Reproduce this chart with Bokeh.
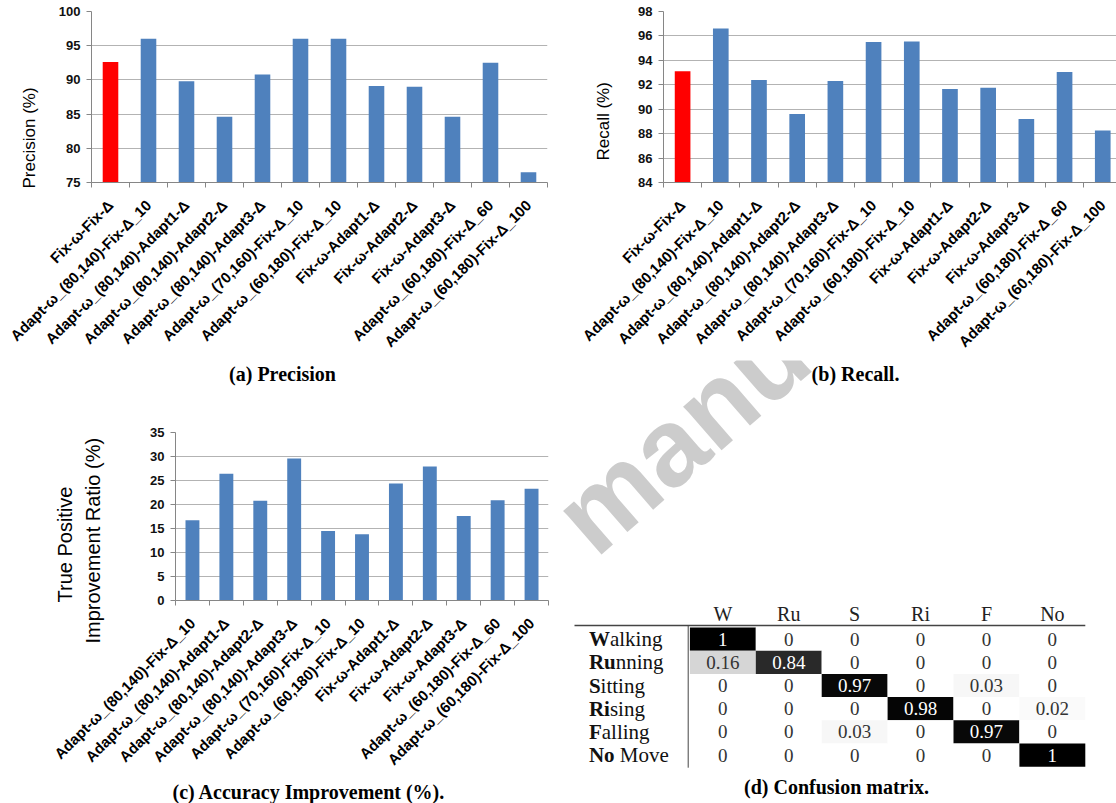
import math
from bokeh.plotting import figure
from bokeh.models import Range1d, FixedTicker, Title, ColumnDataSource
from bokeh.layouts import row, column
from bokeh.embed import file_html
from bokeh.resources import INLINE
from bokeh.core.properties import value

# ---------------- data ----------------
METHODS = ["Fix-ω-Fix-Δ", "Adapt-ω_(80,140)-Fix-Δ_10", "Adapt-ω_(80,140)-Adapt1-Δ",
           "Adapt-ω_(80,140)-Adapt2-Δ", "Adapt-ω_(80,140)-Adapt3-Δ", "Adapt-ω_(70,160)-Fix-Δ_10",
           "Adapt-ω_(60,180)-Fix-Δ_10", "Fix-ω-Adapt1-Δ", "Fix-ω-Adapt2-Δ", "Fix-ω-Adapt3-Δ",
           "Adapt-ω_(60,180)-Fix-Δ_60", "Adapt-ω_(60,180)-Fix-Δ_100"]
BASELINE = "Fix-ω-Fix-Δ"
PRECISION = [92.6, 96.0, 89.8, 84.6, 90.8, 96.0, 96.0, 89.1, 89.0, 84.6, 92.5, 76.5]
RECALL = [93.1, 96.6, 92.4, 89.6, 92.3, 95.5, 95.55, 91.65, 91.75, 89.2, 93.05, 88.25]
IMPROVEMENT_METHODS = METHODS[1:]
IMPROVEMENT = [16.7, 26.4, 20.8, 29.6, 14.5, 13.8, 24.4, 27.9, 17.6, 20.9, 23.3]
PRECISION_TICKS = [75, 80, 85, 90, 95, 100]
RECALL_TICKS = [84, 86, 88, 90, 92, 94, 96, 98]
IMPROVEMENT_TICKS = [0, 5, 10, 15, 20, 25, 30, 35]

CM_COLS = ["W", "Ru", "S", "Ri", "F", "No"]
CM_ROWS = ["Walking", "Running", "Sitting", "Rising", "Falling", "No Move"]
CM = [[1, 0, 0, 0, 0, 0],
      [0.16, 0.84, 0, 0, 0, 0],
      [0, 0, 0.97, 0, 0.03, 0],
      [0, 0, 0, 0.98, 0, 0.02],
      [0, 0, 0.03, 0, 0.97, 0],
      [0, 0, 0, 0, 0, 1]]

# ---------------- style ----------------
SANS = "Liberation Sans"
SERIF = "Liberation Serif"
BLUE = "#4f81bd"
RED = "#ff0000"
GRID = "#b3b3b3"
AXIS = "#868686"
# advance widths (em) of Liberation Serif Bold, to place the regular part after the bold prefix
BOLD_W = {"W": 1.0, "R": 0.722, "u": 0.556, "S": 0.556, "i": 0.278, "F": 0.611, "N": 0.722, "o": 0.5, " ": 0.25}

ROW1_H = 360          # height of the top row (panels a, b)
PAGE_H = 803


def blank_fig(width, height, x0, y0, left=0, right=0):
    """A figure drawn in page-pixel units (y negated so it grows downward)."""
    p = figure(width=width, height=height,
               x_range=Range1d(x0 + left, x0 + width - right), y_range=Range1d(-(y0 + height), -y0),
               output_backend="svg", toolbar_location=None,
               min_border_left=left, min_border_right=right, min_border_top=0, min_border_bottom=0)
    p.axis.visible = False
    p.grid.visible = False
    p.outline_line_color = None
    p.background_fill_color = "white"
    p.border_fill_color = "white"
    return p


def bar_panel(width, height, left, right, top, bottom, xr, yr, labels, values, ticks):
    n = len(labels)
    xs = list(range(n))
    p = figure(width=width, height=height, x_range=Range1d(*xr), y_range=Range1d(*yr),
               output_backend="svg", toolbar_location=None,
               min_border_left=left, min_border_right=right,
               min_border_top=top, min_border_bottom=bottom)
    p.outline_line_color = None
    p.background_fill_color = "white"
    p.border_fill_color = "white"
    colors = [RED if lab == BASELINE else BLUE for lab in labels]
    src = ColumnDataSource(dict(x=xs, top=values, color=colors))
    p.vbar(x="x", top="top", bottom=yr[0], width=0.41,
           fill_color="color", line_color=None, source=src)
    p.xgrid.visible = False
    p.ygrid.grid_line_color = GRID

    xa = p.xaxis[0]
    xa.ticker = FixedTicker(ticks=xs, minor_ticks=[i - 0.5 for i in range(n + 1)])
    xa.major_label_overrides = {i: lab for i, lab in enumerate(labels)}
    xa.major_label_orientation = math.pi / 4
    xa.major_tick_line_color = None
    xa.major_tick_out = 0
    xa.major_tick_in = 0
    xa.minor_tick_line_color = AXIS
    xa.minor_tick_out = 5
    xa.minor_tick_in = 0
    xa.axis_line_color = AXIS
    xa.major_label_standoff = 15
    xa.major_label_text_font = SANS
    xa.major_label_text_font_style = "bold"
    xa.major_label_text_font_size = "15px"
    xa.major_label_text_color = "#000000"

    ya = p.yaxis[0]
    ya.ticker = FixedTicker(ticks=ticks)
    ya.axis_line_color = AXIS
    ya.major_tick_line_color = AXIS
    ya.major_tick_out = 5
    ya.major_tick_in = 0
    ya.minor_tick_line_color = None
    ya.major_label_standoff = 6
    ya.major_label_text_font = SANS
    ya.major_label_text_font_style = "bold"
    ya.major_label_text_font_size = "13px"
    ya.major_label_text_color = "#111111"
    return p


def side_title(p, side, text, font, size, offset, standoff, bold=False):
    p.add_layout(Title(text=text, align="left", offset=offset, standoff=standoff,
                       text_font=font, text_font_size=size,
                       text_font_style="bold" if bold else "normal",
                       text_color="#000000"), side)


def caption(p, x, y, text, size="20px"):
    p.text(x=[x], y=[-y], text=[text], text_font=value(SERIF),
           text_font_style="bold", text_font_size=size,
           text_color="#000000", text_align="center", text_baseline="middle")


# ---------------- panel (a) ----------------
fa = bar_panel(560, ROW1_H, 90, 13, 11, ROW1_H - 182, (-0.5, 11.5), (75, 100),
               METHODS, PRECISION, PRECISION_TICKS)
side_title(fa, "left", "Precision (%)", SANS, "17px", offset=-6, standoff=34)

# ---------------- panel (b) ----------------
fb = bar_panel(556, ROW1_H, 103, 0, 11, ROW1_H - 182, (-0.5, 11.36), (84, 98),
               METHODS, RECALL, RECALL_TICKS)
side_title(fb, "left", "Recall (%)", SANS, "17px", offset=22, standoff=46)

# ---------------- caption strip for (a) ----------------
CAP_H = 40
cap_a = blank_fig(560, CAP_H, 0, ROW1_H, left=175, right=12)
caption(cap_a, 282, 373, "(a) Precision")

# ---------------- panel (c) ----------------
C_TOP = ROW1_H + CAP_H
C_H = PAGE_H - C_TOP
fc = bar_panel(560, C_H, 175, 12, 432 - C_TOP, PAGE_H - 600, (-0.5, 10.5), (0, 35),
               IMPROVEMENT_METHODS, IMPROVEMENT, IMPROVEMENT_TICKS)
# blank axis label only reserves room between the tick labels and the two-line axis title
fc.yaxis[0].axis_label = " "
fc.yaxis[0].axis_label_text_font_size = "10px"
fc.yaxis[0].axis_label_standoff = 29
side_title(fc, "left", "Improvement Ratio (%)", SANS, "20px", offset=-43, standoff=2)
side_title(fc, "left", "True Positive", SANS, "20px", offset=-2, standoff=6)
side_title(fc, "below", "(c) Accuracy Improvement (%).", SERIF, "20px", offset=-3, standoff=2, bold=True)

# ---------------- panel (d): confusion matrix ----------------
DX0, DY0 = 560, ROW1_H
fd = blank_fig(556, PAGE_H - ROW1_H, DX0, DY0)

# watermark (drawn first, lies beneath everything)
fd.text(x=[570], y=[-530], text=["manu"], angle=0.716,
        text_font=value(SANS), text_font_style="bold", text_font_size="110px",
        text_color="#cccccc", text_align="left", text_baseline="alphabetic")

COL_X0, COL_W = 689.4, 65.9
ROW_Y0, ROW_H = 627.0, 23.2
ncol, nrow = len(CM_COLS), len(CM_ROWS)

cx, cy, ctext, cfill, ccolor = [], [], [], [], []
for i in range(nrow):
    for j in range(ncol):
        v = CM[i][j]
        cx.append(COL_X0 + (j + 0.5) * COL_W)
        cy.append(-(ROW_Y0 + (i + 0.5) * ROW_H))
        ctext.append("0" if v == 0 else ("1" if v == 1 else f"{v:.2f}"))
        g = int(round(255 * (1 - v)))
        cfill.append(f"#{g:02x}{g:02x}{g:02x}")
        ccolor.append("#ffffff" if v >= 0.5 else "#333333")
csrc = ColumnDataSource(dict(x=cx, y=cy, text=ctext, fill=cfill, color=ccolor))
fd.rect(x="x", y="y", width=COL_W, height=ROW_H, fill_color="fill", line_color=None, source=csrc)
fd.text(x="x", y="y", text="text", text_color="color", text_font=value(SERIF),
        text_font_size="19px", text_align="center", text_baseline="middle", source=csrc)

# header
fd.text(x=[COL_X0 + (j + 0.5) * COL_W for j in range(ncol)], y=[-613] * ncol, text=CM_COLS,
        text_font=value(SERIF), text_font_size="20px", text_color="#222222",
        text_align="center", text_baseline="middle")
# rules
fd.segment(x0=[574], y0=[-625], x1=[COL_X0 + ncol * COL_W], y1=[-625],
           line_color="#444444", line_width=1.5)
fd.segment(x0=[687.7], y0=[-625], x1=[687.7], y1=[-(ROW_Y0 + nrow * ROW_H + 1)],
           line_color="#444444", line_width=1)

# row labels: bold abbreviation prefix + regular remainder
LABEL_X, LABEL_SIZE = 588.4, 21
bx, by, btxt, rx, rtxt = [], [], [], [], []
for i, name in enumerate(CM_ROWS):
    prefix = CM_COLS[i]
    rest = name[len(prefix):]
    w = sum(BOLD_W.get(ch, 0.5) for ch in prefix)
    if rest.startswith(" "):
        w += BOLD_W[" "]
        rest = rest.lstrip()
    bx.append(LABEL_X)
    by.append(-(ROW_Y0 + (i + 0.5) * ROW_H))
    btxt.append(prefix)
    rx.append(LABEL_X + w * LABEL_SIZE)
    rtxt.append(rest)
fd.text(x=bx, y=by, text=btxt, text_font=value(SERIF), text_font_style="bold",
        text_font_size=f"{LABEL_SIZE}px", text_color="#111111", text_align="left", text_baseline="middle")
fd.text(x=rx, y=by, text=rtxt, text_font=value(SERIF),
        text_font_size=f"{LABEL_SIZE}px", text_color="#111111", text_align="left", text_baseline="middle")

caption(fd, 855, 373, "(b) Recall.")
caption(fd, 836, 786, "(d) Confusion matrix.")

left_bottom = column(column(cap_a), column(fc))
layout = column(row(fa, fb), row(left_bottom, column(fd)))
open("out.html", "w").write(file_html(layout, INLINE))
